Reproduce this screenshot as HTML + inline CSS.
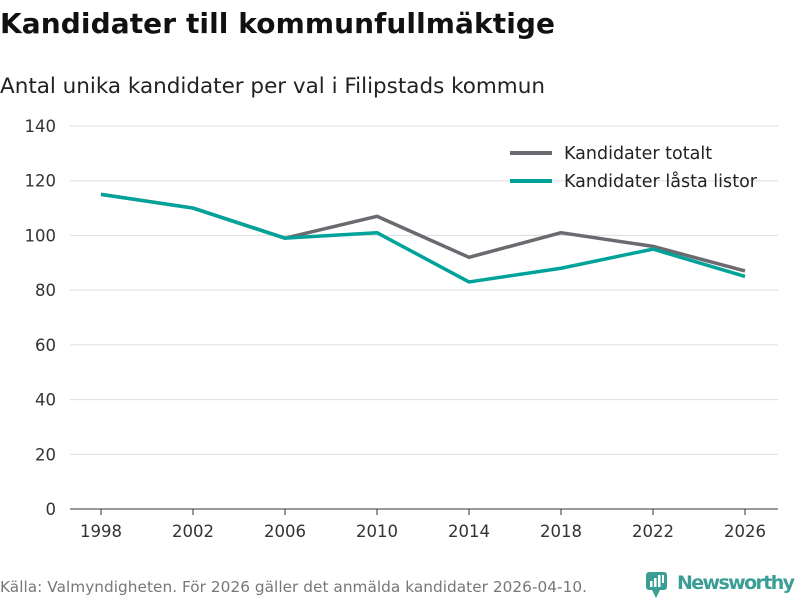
<!DOCTYPE html>
<html><head><meta charset="utf-8"><style>
body{margin:0;background:#fff;font-family:"DejaVu Sans","Liberation Sans",sans-serif;}
svg text{font-family:"DejaVu Sans","Liberation Sans",sans-serif;}
</style></head><body>
<svg id="c" width="800" height="600" xmlns="http://www.w3.org/2000/svg">
<text x="0" y="33" font-size="28" font-weight="bold" fill="#111" textLength="555">Kandidater till kommunfullmäktige</text>
<text x="0" y="93" font-size="21.5" fill="#222" textLength="545">Antal unika kandidater per val i Filipstads kommun</text>
<g id="grid"></g><g id="xa"></g><g id="lines"></g>
<g>
<line x1="510" y1="153" x2="552" y2="153" stroke="#6b6a70" stroke-width="4"/>
<text x="564" y="159" font-size="17.5" fill="#222">Kandidater totalt</text>
<line x1="510" y1="181" x2="552" y2="181" stroke="#00a39a" stroke-width="4"/>
<text x="564" y="187" font-size="17.5" fill="#222" textLength="193">Kandidater låsta listor</text>
</g>
<text x="0" y="592" font-size="15.3" fill="#777" textLength="587">Källa: Valmyndigheten. För 2026 gäller det anmälda kandidater 2026-04-10.</text>
<g>
<rect x="646" y="572" width="21" height="18" rx="3" fill="#3a9e95"/>
<polygon points="652,590 660,590 656,598" fill="#3a9e95"/>
<rect x="650" y="581" width="2.5" height="6" fill="#fff"/><rect x="654" y="578" width="2.5" height="9" fill="#fff"/><rect x="658" y="575" width="2.5" height="12" fill="#fff"/><rect x="662" y="575" width="2" height="8" fill="#fff"/>
<text x="677" y="589" font-size="19" font-weight="bold" fill="#3a9e95" textLength="118">Newsworthy</text>
</g>
</svg>
<script>
const years=["1998","2002","2006","2010","2014","2018","2022","2026"];
const totalt=[115,110,99,107,92,101,96,87];
const lasta=[115,110,99,101,83,88,95,85];
const yTicks=[0,20,40,60,80,100,120,140];
const NS="http://www.w3.org/2000/svg";
const x=i=>101+i*92, y=v=>509-v*(383/140);
function mk(t,a,p){const e=document.createElementNS(NS,t);for(const k in a)e.setAttribute(k,a[k]);p.appendChild(e);return e;}
const g=document.getElementById('grid');
yTicks.forEach(v=>{
 const l=mk('line',{x1:70,x2:778,y1:y(v),y2:y(v),stroke:v===0?'#333':'#ddd','stroke-width':1},g);
 
 
 const t=mk('text',{x:56,y:y(v)+6,'text-anchor':'end','font-size':16.5,fill:'#333'},g);t.textContent=v;
 
 
});
const xa=document.getElementById('xa');
years.forEach((yr,i)=>{
 const tk=mk('line',{x1:x(i),x2:x(i),y1:509,y2:515,stroke:'#333'},xa);
 
 
 const t=mk('text',{x:x(i),y:537,'text-anchor':'middle','font-size':16.5,fill:'#333'},xa);t.textContent=yr;
 
 
});
const L=document.getElementById('lines');
[[totalt,'#6b6a70','line-totalt'],[lasta,'#00a39a','line-lasta']].forEach(([d,c,n])=>{
 const p=mk('polyline',{points:d.map((v,i)=>x(i)+','+y(v)).join(' '),fill:'none',stroke:c,'stroke-width':3.5,'stroke-linejoin':'round'},L);
 
 
});
</script>
</body></html>
